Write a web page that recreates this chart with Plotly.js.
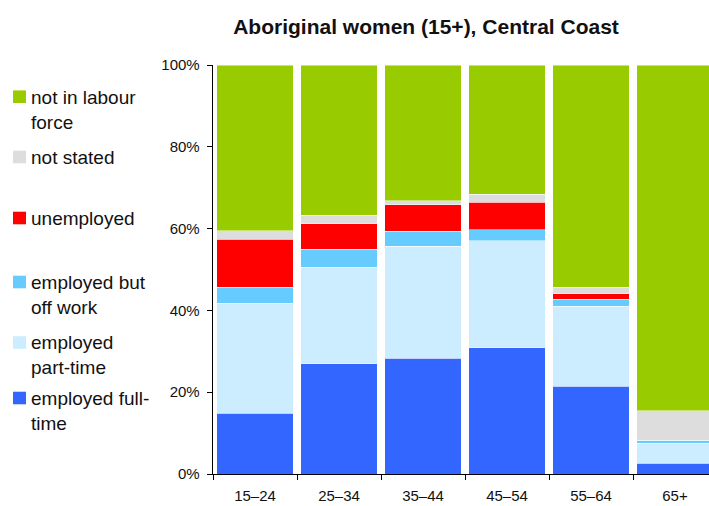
<!DOCTYPE html>
<html>
<head>
<meta charset="utf-8">
<script src="https://cdn.plot.ly/plotly-3.0.1.min.js"></script>
<style>
html,body{margin:0;padding:0;overflow:hidden;background:#fff;}
#chart{width:709px;height:506px;}
</style>
</head>
<body>
<div id="chart"></div>
<script>
var categories = ["15–24", "25–34", "35–44", "45–54", "55–64", "65+"];
var seriesNames = ["employed full-time", "employed part-time", "employed but off work", "unemployed", "not stated", "not in labour force"];
var legendLabels = ["employed full-<br>time", "employed<br>part-time", "employed but<br>off work", "unemployed", "not stated", "not in labour<br>force"];
var fullTime   = [14.9, 27.0, 28.3, 30.9, 21.4, 2.6];
var partTime   = [26.8, 23.5, 27.4, 26.1, 19.6, 4.9];
var offWork    = [4.0, 4.4, 3.6, 2.7, 1.7, 0.7];
var unemployed = [11.7, 6.3, 6.5, 6.8, 1.4, 0.0];
var notStated  = [2.1, 2.1, 1.0, 1.9, 1.6, 7.3];
var notInLF    = [40.5, 36.7, 33.2, 31.6, 54.3, 84.5];
var yTickVals  = [0, 20, 40, 60, 80, 100];
var yTickText  = ["0%", "20%", "40%", "60%", "80%", "100%"];

var seriesValues = [fullTime, partTime, offWork, unemployed, notStated, notInLF];
var colors = ["#3366FF", "#CCECFF", "#66CCFF", "#FF0000", "#DDDDDD", "#99CC00"];

var traces = seriesValues.map(function(vals, i){
  return {
    type: "bar",
    name: seriesNames[i],
    x: categories,
    y: vals,
    marker: {color: colors[i], line: {color: "rgba(255,255,255,0.45)", width: 1}},
    hoverinfo: "skip"
  };
});

var W = 709, H = 506;
var mL = 213, mR = 0, mT = 65, mB = 32;
var plotW = W - mL - mR, plotH = H - mT - mB;
function px2x(px){ return (px - mL) / plotW; }
function py2y(py){ return (H - mB - py) / plotH; }

// legend (left side), top to bottom
var legendOrder = [5, 4, 3, 2, 1, 0];
var squareCenters = [96.7, 157, 218, 282, 342.5, 398];
var shapes = [], annotations = [];
legendOrder.forEach(function(si, k){
  var cy = squareCenters[k];
  shapes.push({
    type: "rect", xref: "paper", yref: "paper",
    x0: px2x(13), x1: px2x(26), y0: py2y(cy + 6.3), y1: py2y(cy - 6.3),
    fillcolor: colors[si], line: {width: 0}
  });
  annotations.push({
    xref: "paper", yref: "paper",
    x: px2x(30), y: py2y(cy - 11),
    xanchor: "left", yanchor: "top",
    text: legendLabels[si], showarrow: false, align: "left",
    borderpad: 0,
    font: {family: "Liberation Sans, Arial, sans-serif", size: 19, color: "#111"}
  });
});

var layout = {
  width: W, height: H,
  margin: {l: mL, r: mR, t: mT, b: mB, pad: 0},
  paper_bgcolor: "#fff", plot_bgcolor: "#fff",
  barmode: "stack",
  bargap: 0.09,
  showlegend: false,
  font: {family: "Liberation Sans, Arial, sans-serif", size: 15, color: "#111"},
  title: {
    text: "<b>Aboriginal women (15+), Central Coast</b>",
    xref: "container", yref: "container",
    x: 426 / W, y: 1 - 27 / H, xanchor: "center", yanchor: "middle",
    font: {family: "Liberation Sans, Arial, sans-serif", size: 21, color: "#111"}
  },
  xaxis: {
    type: "category",
    range: [-0.5, -0.5 + plotW / 84],
    tickson: "boundaries",
    ticks: "outside", ticklen: 5, tickcolor: "#000", tickwidth: 1,
    showline: true, linecolor: "#000", linewidth: 1.3,
    showgrid: false, zeroline: false,
    ticklabelstandoff: 8,
    tickfont: {size: 15, color: "#111"},
    fixedrange: true
  },
  yaxis: {
    range: [0, 100],
    tickvals: yTickVals, ticktext: yTickText,
    ticks: "outside", ticklen: 5, tickcolor: "#000", tickwidth: 1,
    showline: true, linecolor: "#000", linewidth: 1.3,
    showgrid: false, zeroline: false,
    ticklabelstandoff: 4,
    tickfont: {size: 15, color: "#111"},
    fixedrange: true
  },
  shapes: shapes,
  annotations: annotations
};

Plotly.newPlot("chart", traces, layout, {displayModeBar: false, staticPlot: true});
</script>
</body>
</html>
